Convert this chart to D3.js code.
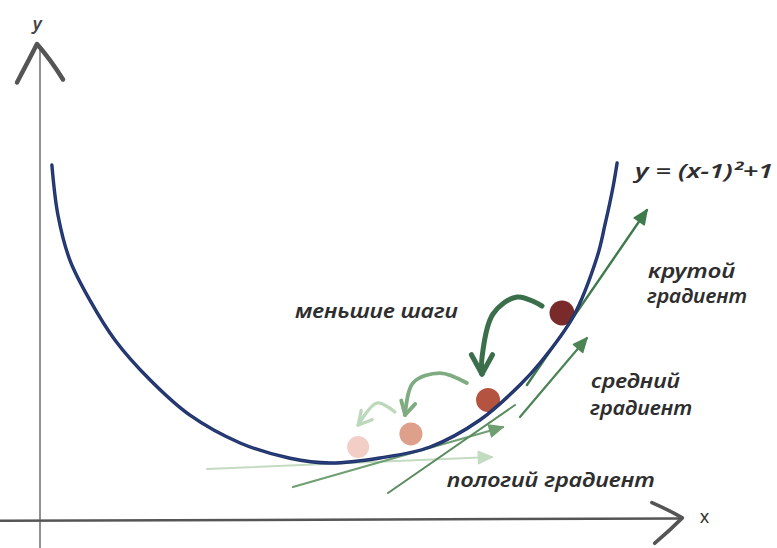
<!DOCTYPE html>
<html><head><meta charset="utf-8">
<script src="https://cdn.jsdelivr.net/npm/d3@7"></script>
<style>html,body{margin:0;padding:0;background:#fff;}svg{display:block;}</style>
</head><body>
<svg id="c" width="777" height="548"></svg>
<script>
// ---- data (abstract units: x along the horizontal axis, y up the vertical axis) ----
const curveX = [0.041,0.062,0.103,0.172,0.259,0.379,0.517,0.690,0.862,1.000,1.172,1.345,1.517,1.655,1.724,1.838,1.921,1.948,1.976,1.990];
const curveY = [6.05,5.20,4.44,3.76,3.08,2.41,1.81,1.34,1.08,1.00,1.085,1.271,1.729,2.322,2.695,3.475,4.492,5.034,5.678,6.085];

const ballX = [1.800,1.545,1.279,1.097];
const ballY = [3.542,2.068,1.492,1.271];

// tangent (gradient) arrows: start / end
const tanX0 = [0.576,0.872,1.200,1.655,1.679];
const tanY0 = [0.898,0.593,0.492,1.780,2.322];
const tanX1 = [1.559,1.597,1.638,1.886,2.093];
const tanY1 = [1.102,1.610,1.983,3.119,5.288];
const tanHead = [true,true,false,true,true];

// curved step arrows (between ball positions)
const stepX = [[1.731,1.645,1.562,1.524,1.524],[1.472,1.379,1.286,1.259],[1.224,1.162,1.097]];
const stepY = [[3.661,3.814,3.525,2.780,2.508],[2.356,2.525,2.356,1.814],[1.864,2.017,1.644]];

const labels = ["меньшие шаги","y = (x-1)²+1","крутой","градиент","средний","градиент","пологий градиент"];
const axisLabels = ["x","y"];

// ---- drawing ----
const svg = d3.select("#c");
const x = d3.scaleLinear().domain([0, 2.5]).range([40, 765]);
const y = d3.scaleLinear().domain([0, 6]).range([522, 168]);

const ballColors = ["#7b2a2a","#b4533f","#dfa08b","#f2cec6"];
const ballR = [12.5,12,11.5,11];
const tanColors = ["#c3dcc1","#6f9f72","#5a8c5f","#4d8455","#3f7a4c"];
const tanWidths = [2,2.2,2,2.2,2.4];
const stepColors = ["#3b6e4a","#7eab80","#bcd8ba"];
const stepWidths = [5,3.8,3.2];

function head(g, tip, ang, len, color, w) {
  [-0.5, 0.5].forEach(d => {
    const a = ang + Math.PI + d;
    g.append("line")
      .attr("x1", tip[0]).attr("y1", tip[1])
      .attr("x2", tip[0] + len*Math.cos(a)).attr("y2", tip[1] + len*Math.sin(a))
      .attr("stroke", color).attr("stroke-width", w).attr("stroke-linecap","round");
  });
}

// axes
const axisG = svg.append("g");
axisG.append("line").attr("x1", x(0)).attr("x2", x(0)).attr("y1", y(-0.45)).attr("y2", y(8.05))
  .attr("stroke", "#777").attr("stroke-width", 1.6);
axisG.append("path")
  .attr("d", `M${x(0)-23},${y(7.45)} Q${x(0)-12},${y(7.8)} ${x(0)-3},${y(8.1)} Q${x(0)+10},${y(7.85)} ${x(0)+23},${y(7.5)}`)
  .attr("fill","none").attr("stroke","#555").attr("stroke-width",4.5).attr("stroke-linecap","round").attr("stroke-linejoin","round");
axisG.append("line").attr("x1", x(-0.14)).attr("x2", x(2.21)).attr("y1", y(0.02)).attr("y2", y(0.06))
  .attr("stroke", "#555").attr("stroke-width", 2.6);
axisG.append("path")
  .attr("d", `M${x(2.11)},${y(0.33)} Q${x(2.17)},${y(0.2)} ${x(2.215)},${y(0.07)} Q${x(2.17)},${y(-0.15)} ${x(2.12)},${y(-0.36)}`)
  .attr("fill","none").attr("stroke","#555").attr("stroke-width",3.6).attr("stroke-linecap","round").attr("stroke-linejoin","round");
axisG.append("text").attr("x", x(2.275)).attr("y", y(-0.02)).text(axisLabels[0])
  .attr("font-family","Noto Sans").attr("font-size",18).attr("fill","#333");
axisG.append("text").attr("x", x(-0.025)).attr("y", y(8.34)).text(axisLabels[1])
  .attr("font-family","Noto Sans").attr("font-style","italic").attr("font-weight",600).attr("font-size",18).attr("fill","#444");

// tangent arrows (behind the curve)
const tanG = svg.append("g");
tanX0.forEach((v, i) => {
  const p0 = [x(tanX0[i]), y(tanY0[i])], p1 = [x(tanX1[i]), y(tanY1[i])];
  tanG.append("line").attr("x1", p0[0]).attr("y1", p0[1]).attr("x2", p1[0]).attr("y2", p1[1])
    .attr("stroke", tanColors[i]).attr("stroke-width", tanWidths[i]).attr("stroke-linecap","round");
  if (tanHead[i]) {
    const ang = Math.atan2(p1[1]-p0[1], p1[0]-p0[0]);
    const len = 15;
    tanG.append("path")
      .attr("d", `M${p1[0]},${p1[1]} L${p1[0]+len*Math.cos(ang+Math.PI-0.42)},${p1[1]+len*Math.sin(ang+Math.PI-0.42)} L${p1[0]+len*Math.cos(ang+Math.PI+0.42)},${p1[1]+len*Math.sin(ang+Math.PI+0.42)} Z`)
      .attr("fill", tanColors[i]).attr("stroke", tanColors[i]).attr("stroke-width", 1.5).attr("stroke-linejoin","round");
  }
});

// balls
const ballG = svg.append("g");
ballX.forEach((v, i) => {
  ballG.append("circle").attr("cx", x(ballX[i])).attr("cy", y(ballY[i])).attr("r", ballR[i]).attr("fill", ballColors[i]);
});

// curve
const line = d3.line().x(d => x(d[0])).y(d => y(d[1])).curve(d3.curveCatmullRom.alpha(0.5));
const curveData = curveX.map((v, i) => [v, curveY[i]]);
svg.append("path").datum(curveData)
  .attr("d", line).attr("fill","none").attr("stroke","#1f3168").attr("stroke-width",3.4).attr("stroke-linecap","round");
svg.append("path").datum(curveData)
  .attr("d", line).attr("fill","none").attr("stroke","#3a5aa0").attr("stroke-width",1).attr("opacity",0.5).attr("stroke-linecap","round");

// step arrows
const stepLine = d3.line().x(d => x(d[0])).y(d => y(d[1])).curve(d3.curveCatmullRom.alpha(0.5));
stepX.forEach((xs, i) => {
  const pts = xs.map((v, j) => [v, stepY[i][j]]);
  svg.append("path").datum(pts).attr("d", stepLine).attr("fill","none")
    .attr("stroke", stepColors[i]).attr("stroke-width", stepWidths[i]).attr("stroke-linecap","round");
  const a = pts[pts.length-2], b = pts[pts.length-1];
  const ang = Math.atan2(y(b[1]) - y(a[1]), x(b[0]) - x(a[0]));
  head(svg, [x(b[0]), y(b[1])], ang, i === 0 ? 22 : 15, stepColors[i], stepWidths[i]);
});

// labels
const labelPos = [[0.879,3.458,163],[2.052,5.831,138],[2.097,4.136,87],[2.093,3.712,100],[1.900,2.271,89],[1.897,1.814,102],[1.403,0.593,208]];
labels.forEach((t, i) => {
  svg.append("text").attr("x", x(labelPos[i][0])).attr("y", y(labelPos[i][1]))
    .attr("textLength", labelPos[i][2]).attr("lengthAdjust","spacingAndGlyphs")
    .attr("font-family","Noto Sans").attr("font-style","italic").attr("font-weight", 600)
    .attr("font-size", 19).attr("fill","#2e2e2e").text(t);
});
</script>
</body></html>
